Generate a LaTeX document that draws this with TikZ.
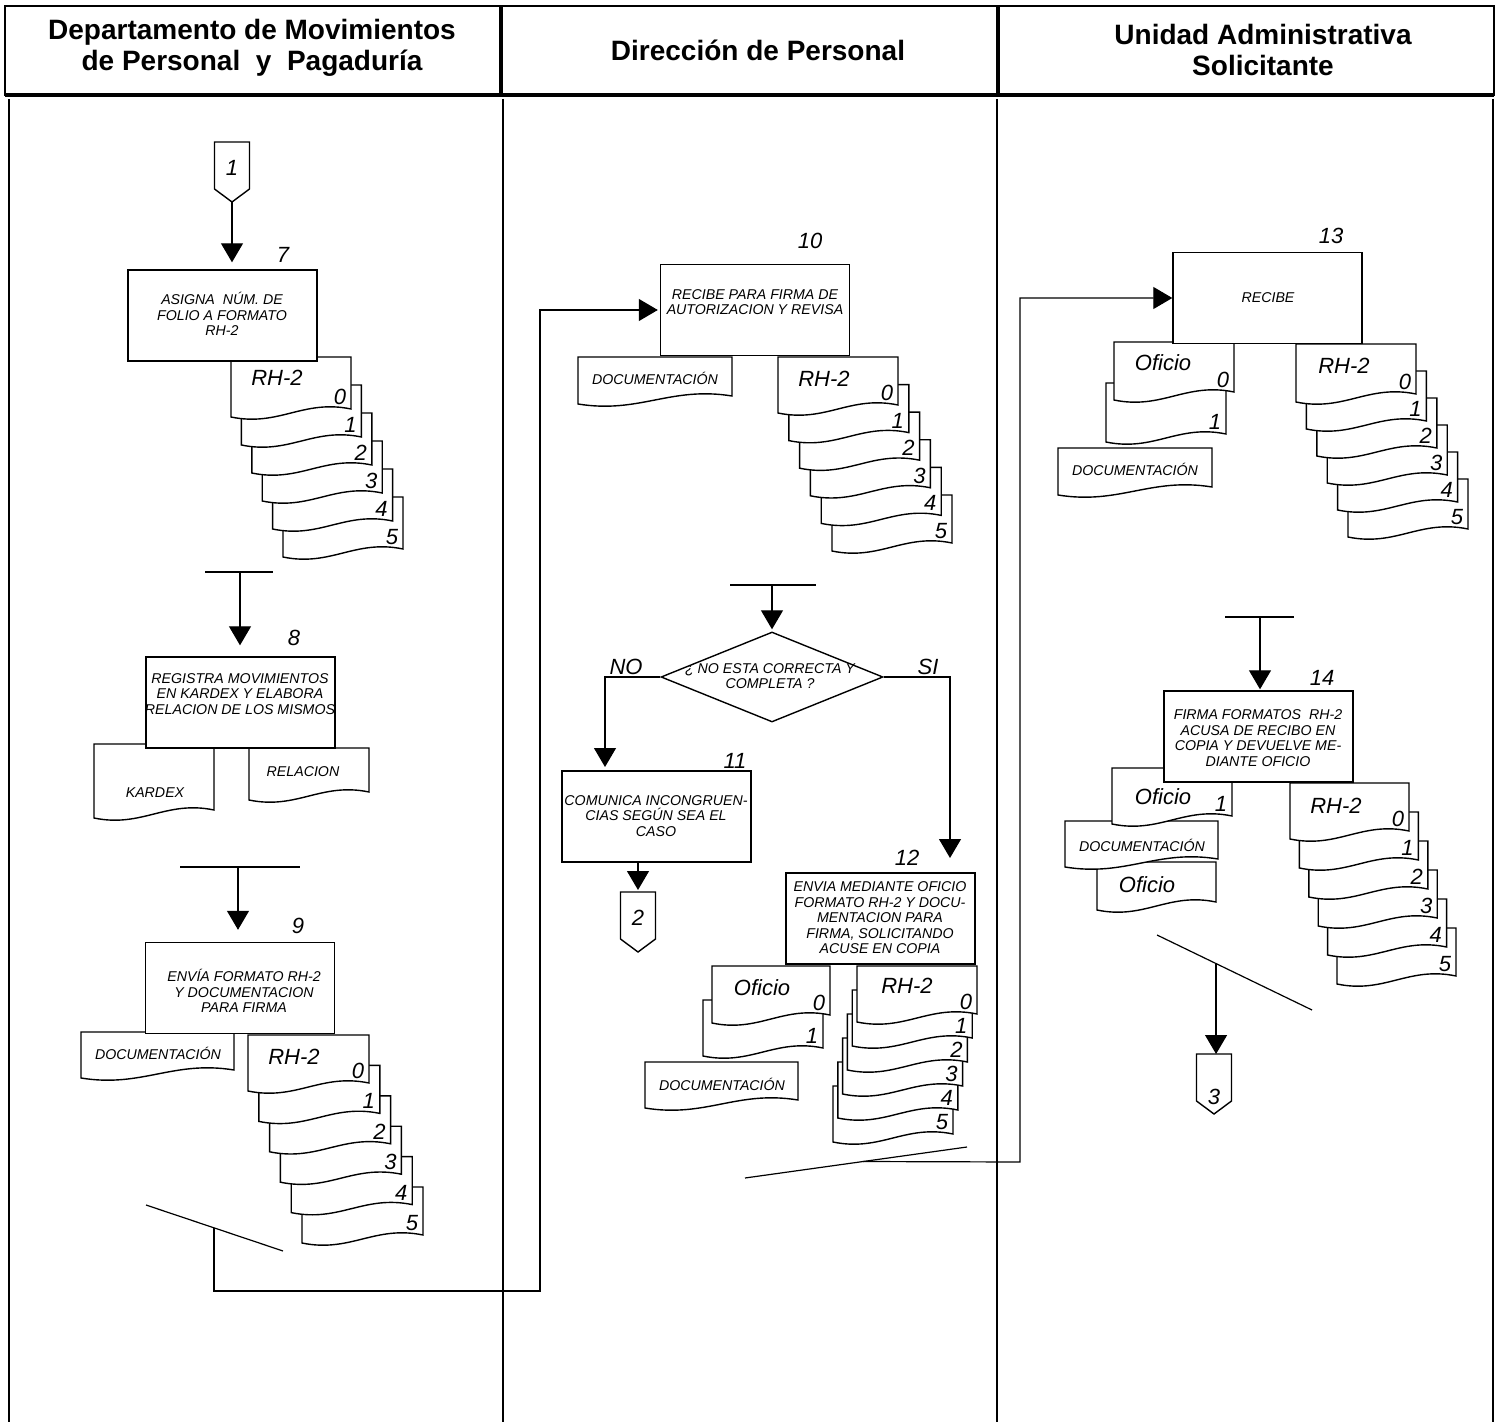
\documentclass[tikz,border=0pt]{standalone}
\usepackage{fontspec}
\setmainfont{Liberation Sans}
\usetikzlibrary{arrows.meta,shapes.geometric,calc}

\tikzset{
  lane/.style={line width=1pt},
  line/.style={line width=0.6pt},
  arr/.style={line width=0.6pt, -{Triangle[length=9.5pt,width=11pt]}},
  box/.style={draw, line width=0.7pt, fill=white, minimum width=94.5pt, minimum height=45.5pt, inner sep=0pt},
  decision/.style={draw, diamond, line width=0.7pt, minimum width=111pt, minimum height=45pt, inner sep=0pt},
  docline/.style={draw, line width=0.7pt, fill=white},
  txt/.style={font=\itshape\fontsize{7.1}{7.75}\selectfont, align=center, inner sep=0pt},
  head/.style={font=\bfseries\fontsize{14}{15.5}\selectfont, align=center},
  stepno/.style={font=\itshape\fontsize{11}{11}\selectfont, inner sep=0pt},
  digit/.style={font=\itshape\fontsize{11}{11}\selectfont, inner sep=0pt},
  form/.style={font=\itshape\fontsize{11}{12}\selectfont, inner sep=0pt},
}

% document symbol: name, x, y (top left), width, height
\newcommand{\docu}[5]{%
  \begin{scope}[shift={(#2,#3)}]
    \path[docline] (0,0) -- (#4,0) -- (#4,#5-8) .. controls (0.6*#4,#5-18) and (0.4*#4,#5+10) .. (0,#5) -- cycle;
    \coordinate (#1) at (0,0);
  \end{scope}}
% same, with the copy number
\newcommand{\docnum}[6]{%
  \docu{#1}{#2}{#3}{#4}{#5}
  \node[digit] (#1-n) at ($(#1)+(#4-11,#5-20)$) {#6};}
% off-page connector: name, x, y (top centre), text, text offset
\newcommand{\offpage}[5]{%
  \draw[line width=0.7pt] (#2-17.5,#3) -- (#2+17.5,#3) -- (#2+17.5,#3+47) -- (#2,#3+60) -- (#2-17.5,#3+47) -- cycle;
  \node[digit] (#1) at (#2,#3+#5) {#4};
  \coordinate (#1-top) at (#2,#3);
  \coordinate (#1-tip) at (#2,#3+60);}

\begin{document}
\begin{tikzpicture}[x=0.5pt,y=-0.5pt]
        \useasboundingbox (0,0) rectangle (1499,1422);

        % lanes
        \draw[line width=1pt] (5,6) rectangle (1494,95);
        \draw[line width=2.2pt] (5,95) -- (1494,95);
        \draw[line width=2pt] (501,6) -- (501,95);
        \draw[line width=2pt] (998,6) -- (998,95);
        \foreach \x in {9,503,997,1493}
                \draw[lane] (\x,99) -- (\x,1422);
        \node[head] (h1) at (252,48) {Departamento de Movimientos\\de Personal\ \ y\ \ Pagaduría};
        \node[head] (h2) at (758,50) {Dirección de Personal};
        \node[head] (h3) at (1263,50) {Unidad Administrativa\\Solicitante};

        % documents
        \foreach \i in {5,4,...,0} {\docnum{sa\i}{231+\i*10.4}{357+\i*28}{120}{60}{\i}}
        \foreach \i in {5,4,...,0} {\docnum{sb\i}{248+\i*10.8}{1035+\i*30.4}{121}{56}{\i}}
        \foreach \i in {5,4,...,0} {\docnum{sc\i}{778+\i*10.8}{357+\i*27.6}{120}{56}{\i}}
        \foreach \i in {5,4,...,0} {\docnum{sd\i}{857-\i*4.8}{966+\i*24}{120}{56}{\i}}
        \foreach \i in {5,4,...,0} {\docnum{se\i}{1296+\i*10.4}{344+\i*27}{120}{58}{\i}}
        \foreach \i in {5,4,...,0} {\docnum{sf\i}{1290+\i*9.4}{783+\i*29}{119}{56}{\i}}
        \node[form] (rha) at (277,378) {RH-2};
        \node[form] (rhb) at (294,1057) {RH-2};
        \node[form] (rhc) at (824,379) {RH-2};
        \node[form] (rhd) at (907,986) {RH-2};
        \node[form] (rhe) at (1344,366) {RH-2};
        \node[form] (rhf) at (1336,806) {RH-2};

        \docu{kardex}{94}{744}{120}{74}
        \docu{relacion}{249}{748}{120}{52}
        \docu{docb}{81}{1032}{153}{46}
        \docu{docc}{578}{357}{154}{47}
        \docu{docd}{645}{1062}{153}{46}
        \docnum{ofd1}{703}{1000}{120}{56}{1}
        \docnum{ofd0}{712}{966}{118}{57}{0}
        \docu{doce}{1058}{448}{154}{47}
        \docnum{ofe1}{1106}{383}{120}{59}{1}
        \docnum{ofe0}{1114}{342}{120}{58}{0}
        \docu{off2}{1097}{862}{119}{48}
        \docu{docf}{1065}{821}{153}{46}
        \docnum{off1}{1112}{768}{120}{56}{1}
        \node[txt] (kardext) at (155,793) {KARDEX};
        \node[txt] (relaciont) at (303,772) {RELACION};
        \node[txt] (docbt) at (158,1053) {DOCUMENTACIÓN};
        \node[txt] (docct) at (655,378) {DOCUMENTACIÓN};
        \node[txt] (docdt) at (722,1084) {DOCUMENTACIÓN};
        \node[txt] (docet) at (1135,469) {DOCUMENTACIÓN};
        \node[txt] (docft) at (1142,845) {DOCUMENTACIÓN};
        \node[form] (ofdt) at (762,988) {Oficio};
        \node[form] (ofet) at (1163,363) {Oficio};
        \node[form] (of1t) at (1163,797) {Oficio};
        \node[form] (of2t) at (1147,885) {Oficio};

        % steps
        \node[box] (b7) at (222.5,315.5) {};
        \node[box] (b8) at (240.5,702.5) {};
        \node[box] (b9) at (240,988) {};
        \node[box] (b10) at (755,310) {};
        \node[box] (b11) at (656.5,816.5) {};
        \node[box] (b12) at (880.5,918.5) {};
        \node[box] (b13) at (1267.5,298) {};
        \node[box] (b14) at (1258.5,736.5) {};
        \node[decision] (dec) at (772,677) {};
        \node[txt] (t7) at (222,314) {ASIGNA\ \ NÚM. DE\\FOLIO A FORMATO\\RH-2};
        \node[txt] (t8) at (240,694) {REGISTRA MOVIMIENTOS\\EN KARDEX Y ELABORA\\RELACION DE LOS MISMOS};
        \node[txt] (t9) at (244,991) {ENVÍA FORMATO RH-2\\Y DOCUMENTACION\\PARA FIRMA};
        \node[txt] (t10) at (755,302) {RECIBE PARA FIRMA DE\\AUTORIZACION Y REVISA};
        \node[txt] (t11) at (656,816) {COMUNICA INCONGRUEN-\\CIAS SEGÚN SEA EL\\CASO};
        \node[txt] (t12) at (880,918) {ENVIA MEDIANTE OFICIO\\FORMATO RH-2 Y DOCU-\\MENTACION PARA\\FIRMA, SOLICITANDO\\ACUSE EN COPIA};
        \node[txt] (t13) at (1268,298) {RECIBE};
        \node[txt] (t14) at (1258,738) {FIRMA FORMATOS\ \ RH-2\\ACUSA DE RECIBO EN\\COPIA Y DEVUELVE ME-\\DIANTE OFICIO};
        \node[txt] (tdec) at (770,676) {¿ NO ESTA CORRECTA Y\\COMPLETA ?};
        \node[stepno] (n7) at (283,255) {7};
        \node[stepno] (n8) at (294,638) {8};
        \node[stepno] (n9) at (298,926) {9};
        \node[stepno] (n10) at (810,241) {10};
        \node[stepno] (n11) at (735,761) {11};
        \node[stepno] (n12) at (907,858) {12};
        \node[stepno] (n13) at (1331,236) {13};
        \node[stepno] (n14) at (1322,678) {14};
        \node[form] (no) at (626,667) {NO};
        \node[form] (si) at (928,667) {SI};

        % connectors
        \offpage{c1}{232}{142}{1}{26}
        \offpage{c2}{638}{892}{2}{26}
        \offpage{c3}{1214}{1054}{3}{43}

        \coordinate (bar8a) at (205,572);
        \coordinate (bar8b) at (273,572);
        \coordinate (m8) at (240,572);
        \coordinate (bar9a) at (180,867);
        \coordinate (bar9b) at (300,867);
        \coordinate (m9) at (238,867);
        \coordinate (bardeca) at (730,585);
        \coordinate (bardecb) at (816,585);
        \coordinate (mdec) at (772,585);
        \coordinate (bar14a) at (1225,617);
        \coordinate (bar14b) at (1294,617);
        \coordinate (m14) at (1260,617);
        \coordinate (cutA1) at (146,1205);
        \coordinate (cutA2) at (283,1251);
        \coordinate (jA) at ($(cutA1)!0.496!(cutA2)$);
        \coordinate (kA) at (540,1291);
        \coordinate (cutB1) at (745,1178);
        \coordinate (cutB2) at (967,1147);
        \coordinate (jB) at ($(cutB1)!0.532!(cutB2)$);
        \coordinate (kB) at (1020,1162);
        \coordinate (cutC1) at (1157,935);
        \coordinate (cutC2) at (1312,1010);
        \coordinate (jC) at ($(cutC1)!0.381!(cutC2)$);
        \coordinate (noend) at (605,771);
        \coordinate (siend) at (950,858);

        \draw[line] (bar8a) -- (bar8b);
        \draw[line] (bar9a) -- (bar9b);
        \draw[line] (bardeca) -- (bardecb);
        \draw[line] (bar14a) -- (bar14b);
        \draw[line] (cutA1) -- (cutA2);
        \draw[line] (cutB1) -- (cutB2);
        \draw[line] (cutC1) -- (cutC2);

        \draw[arr, shorten >=3.5pt] (c1-tip) -- (c1-tip |- b7.north);
        \draw[arr, shorten >=5.5pt] (m8) -- (m8 |- b8.north);
        \draw[arr, shorten >=6pt] (m9) -- (m9 |- b9.north);
        \draw[arr, shorten >=1pt] (jA) |- (kA) |- (b10.west);
        \draw[arr, shorten >=1pt] (mdec) -- (mdec |- dec.north);
        \draw[arr, shorten >=2pt] (dec.west) -| (noend);
        \draw[arr] (dec.east) -| (siend);
        \draw[arr, shorten >=1pt] (b11.south -| c2-top) -- (c2-top);
        \draw[arr] (jB) -- (kB) |- (b13.west);
        \draw[arr, shorten >=0.5pt] (m14) -- (m14 |- b14.north);
        \draw[arr] (jC) -- (jC |- c3-top);
\end{tikzpicture}
\end{document}
